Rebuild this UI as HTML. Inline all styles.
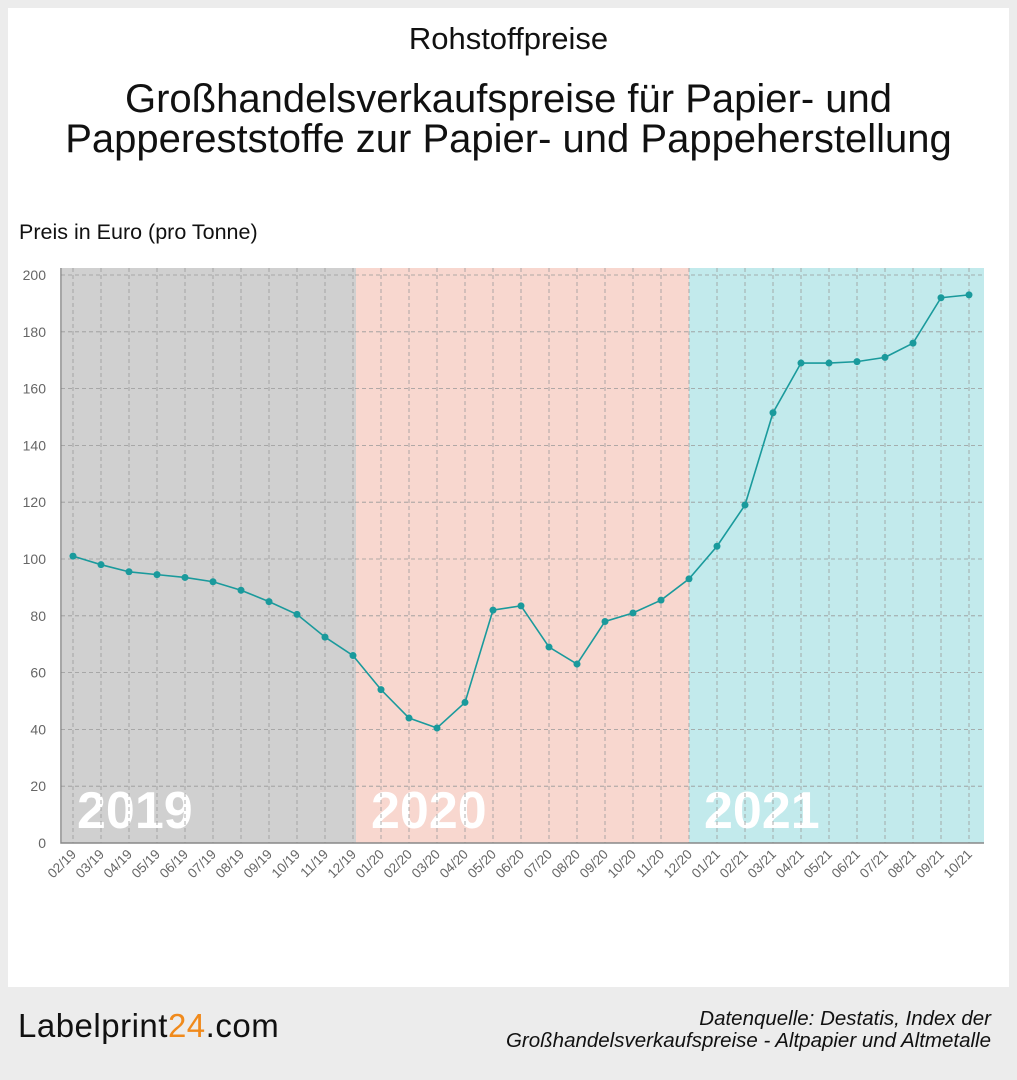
<!DOCTYPE html>
<html><head><meta charset="utf-8"><style>
body{margin:0;width:1017px;height:1080px;background:#ececec;font-family:"Liberation Sans","DejaVu Sans",sans-serif;position:relative;overflow:hidden}
#card{position:absolute;left:8px;top:8px;width:1001px;height:979px;background:#fff}
.t{position:absolute;left:0;width:1017px;text-align:center;color:#111}
</style></head><body>
<div id="card"></div>
<div class="t" style="top:21px;font-size:31px">Rohstoffpreise</div>
<div class="t" style="top:79px;font-size:40px;line-height:40px">Großhandelsverkaufspreise für Papier- und<br>Pappereststoffe zur Papier- und Pappeherstellung</div>
<div style="position:absolute;left:19px;top:220px;font-size:21.5px;color:#111">Preis in Euro (pro Tonne)</div>
<svg id="chart" width="1017" height="1080" style="position:absolute;left:0;top:0"></svg>
<div style="position:absolute;left:18px;top:1007px;font-size:33px;color:#111;letter-spacing:0.5px">Labelprint<span style="color:#f08a1c">24</span>.com</div>
<div style="position:absolute;right:26px;top:1008px;font-size:20.5px;font-style:italic;text-align:right;line-height:22px;color:#111">Datenquelle: Destatis, Index der<br>Großhandelsverkaufspreise - Altpapier und Altmetalle</div>
<script>
const categories=["02/19","03/19","04/19","05/19","06/19","07/19","08/19","09/19","10/19","11/19","12/19","01/20","02/20","03/20","04/20","05/20","06/20","07/20","08/20","09/20","10/20","11/20","12/20","01/21","02/21","03/21","04/21","05/21","06/21","07/21","08/21","09/21","10/21"];
const values=[101,98,95.5,94.5,93.5,92,89,85,80.5,72.5,66,54,44,40.5,49.5,82,83.5,69,63,78,81,85.5,93,104.5,119,151.5,169,169,169.5,171,176,192,193];
const yTicks=[0,20,40,60,80,100,120,140,160,180,200];
const bands=[{label:"2019",from:0,to:10,color:"#d0d0d0"},{label:"2020",from:10,to:22,color:"#f8d7cf"},{label:"2021",from:22,to:32,color:"#c2eaec"}];
const svg=document.getElementById('chart');const NS="http://www.w3.org/2000/svg";
const L=61,R=984,T=268,B=843,YT=275;
const x=i=>73+i*(969-73)/(categories.length-1);
const y=v=>B-(v/200)*(B-YT);
function mk(t,a,p){const e=document.createElementNS(NS,t);for(const k in a)e.setAttribute(k,a[k]);(p||svg).appendChild(e);return e;}
bands.forEach((b,i)=>{const x0=i==0?L+1:(i==1?x(b.from)+3:x(b.from)),x1=i==bands.length-1?R:(i==0?x(b.to)+3:x(b.to));
const r=mk('rect',{x:x0,y:T,width:x1-x0,height:B-T,fill:b.color});


const t=mk('text',{x:x0+15,y:B-15,fill:'#fff','font-size':52,'font-weight':'bold'});t.textContent=b.label;

});
yTicks.forEach(v=>{if(v>0){const g=mk('line',{x1:L,x2:R,y1:y(v),y2:y(v),stroke:'#999','stroke-dasharray':'4,3','stroke-width':0.8});

}
const t=mk('text',{x:46,y:y(v)+5,'text-anchor':'end','font-size':14,fill:'#666'});t.textContent=v;

});
categories.forEach((c,i)=>{const g=mk('line',{x1:x(i),x2:x(i),y1:T,y2:B,stroke:'#999','stroke-dasharray':'4,3','stroke-width':0.8});


const t=mk('text',{x:x(i)+4,y:B+12,'text-anchor':'end','font-size':13.5,fill:'#666',transform:`rotate(-45 ${x(i)+4} ${B+12})`});t.textContent=c;

});
const ax=mk('path',{d:`M${L} ${T}V${B}H${R}`,stroke:'#888',fill:'none','stroke-width':1.5});


const ln=mk('polyline',{points:values.map((v,i)=>x(i)+','+y(v)).join(' '),fill:'none',stroke:'#1a9a9c','stroke-width':1.6});


values.forEach((v,i)=>{const c=mk('circle',{cx:x(i),cy:y(v),r:3.5,fill:'#1a9a9c'});

});
</script>
</body></html>
